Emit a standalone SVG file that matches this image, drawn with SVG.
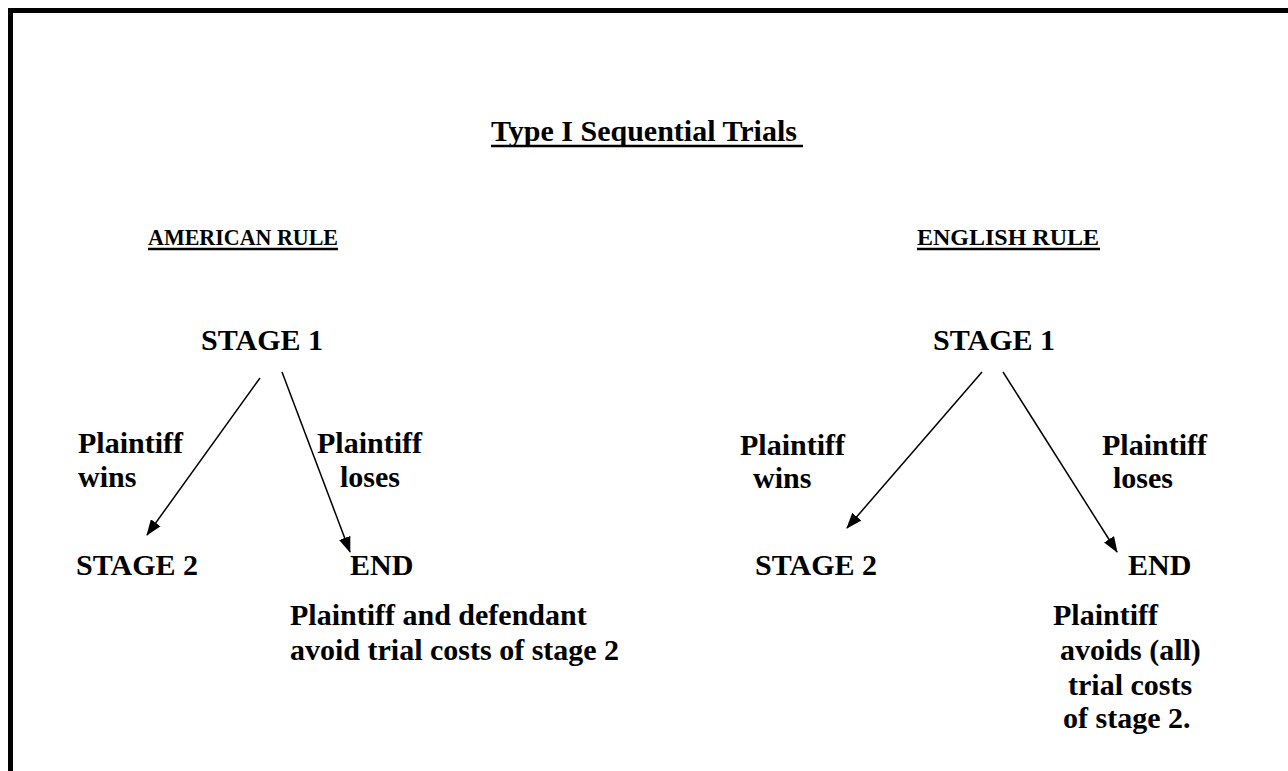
<svg xmlns="http://www.w3.org/2000/svg" width="1288" height="771" viewBox="0 0 1288 771">
<defs>
<marker id="ah" markerWidth="16" markerHeight="12" refX="15" refY="6" orient="auto" markerUnits="userSpaceOnUse">
<path d="M0,0 L16,6 L0,12 Z" fill="#000"/>
</marker>
</defs>
<style>
text{font-family:"Liberation Serif","Times New Roman",serif;font-weight:bold;font-size:30px;fill:#000}
.h{font-size:24px}
.ul{stroke:#000;stroke-width:2.5}
.c{stroke:#000;stroke-width:1.5;fill:none;marker-end:url(#ah)}
</style>
<rect width="1288" height="771" fill="#fff"/>
<path d="M10.5,771 L10.5,10.5 L1288,10.5" fill="none" stroke="#000" stroke-width="5"/>
<g id="title">
<text x="491" y="141">Type I Sequential Trials</text>
<line class="ul" x1="491" y1="146" x2="803" y2="146"/>
</g>
<g id="american">
<text class="h" x="148" y="245" textLength="190" lengthAdjust="spacingAndGlyphs">AMERICAN RULE</text>
<line class="ul" x1="148" y1="249" x2="338" y2="249"/>
</g>
<g id="english">
<text class="h" x="917" y="245">ENGLISH RULE</text>
<line class="ul" x1="917" y1="249" x2="1100" y2="249"/>
</g>
<g id="a-stage1"><text x="201" y="350">STAGE 1</text></g>
<g id="a-stage2"><text x="76" y="575">STAGE 2</text></g>
<g id="a-end"><text x="350" y="575">END</text>
<text x="290" y="625">Plaintiff and defendant</text>
<text x="290" y="660">avoid trial costs of stage 2</text></g>
<g id="e-stage1"><text x="933" y="350">STAGE 1</text></g>
<g id="e-stage2"><text x="755" y="575">STAGE 2</text></g>
<g id="e-end"><text x="1128" y="575">END</text>
<text x="1053" y="625">Plaintiff</text>
<text x="1060" y="660">avoids (all)</text>
<text x="1068" y="695">trial costs</text>
<text x="1063" y="728">of stage 2.</text></g>
<g id="connectors">
<line class="c" x1="260" y1="378" x2="147" y2="535"/>
<line class="c" x1="282" y1="372" x2="350" y2="552"/>
<line class="c" x1="982" y1="372" x2="847" y2="528"/>
<line class="c" x1="1003" y1="372" x2="1117" y2="552"/>
<text x="78" y="453">Plaintiff</text>
<text x="78" y="487">wins</text>
<text x="317" y="453">Plaintiff</text>
<text x="340" y="487">loses</text>
<text x="740" y="455">Plaintiff</text>
<text x="753" y="488">wins</text>
<text x="1102" y="455">Plaintiff</text>
<text x="1113" y="488">loses</text>
</g>
</svg>
